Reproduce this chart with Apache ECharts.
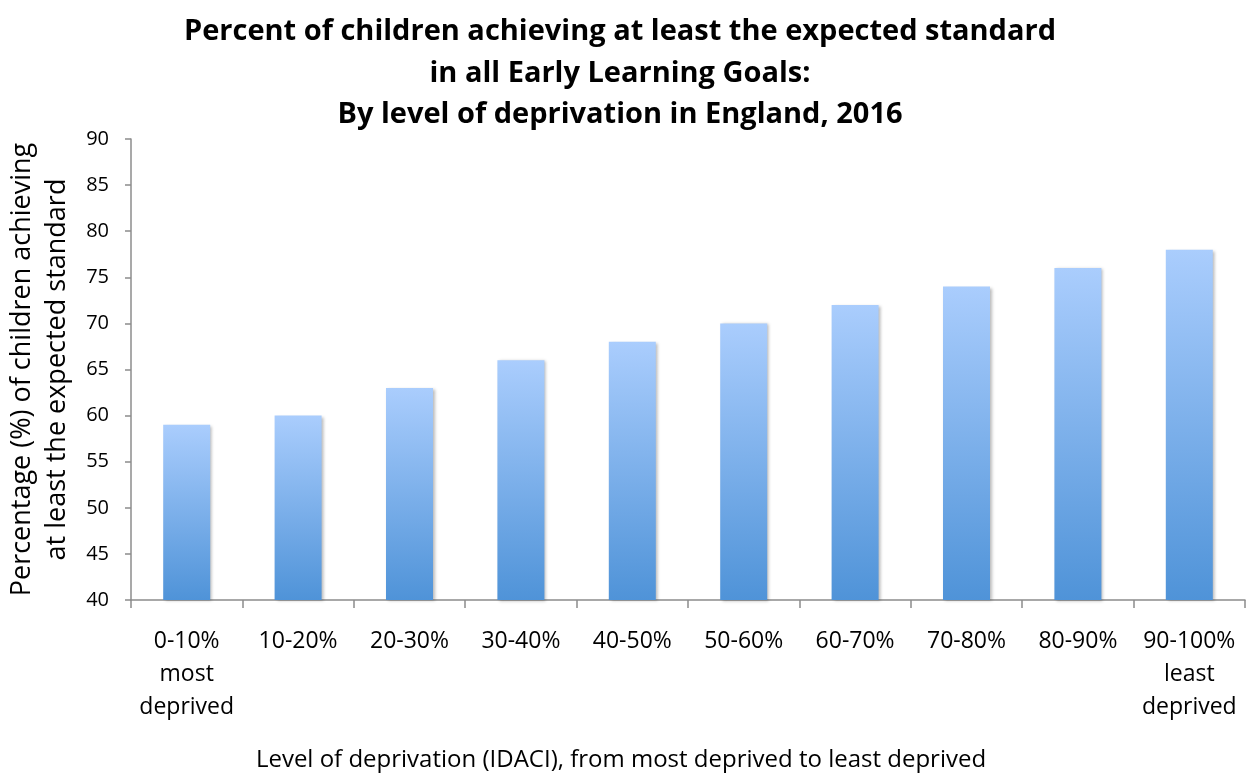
<!DOCTYPE html>
<html>
<head>
<meta charset="utf-8">
<script src="https://cdn.jsdelivr.net/npm/echarts@6/dist/echarts.min.js"></script>
<style>
  html, body { margin: 0; padding: 0; background: #fff; }
  #chart { width: 1247px; height: 774px; }
</style>
</head>
<body>
<div id="chart"></div>
<script>
// Deprivation deciles (IDACI) and share of children reaching the expected standard
const categories = [
  '0-10%\nmost\ndeprived', '10-20%', '20-30%', '30-40%', '40-50%',
  '50-60%', '60-70%', '70-80%', '80-90%', '90-100%\nleast\ndeprived'
];
const percentAchieving = [59, 60, 63, 66, 68, 70, 72, 74, 76, 78];
const yTicks = { min: 40, max: 90, step: 5 };

const FONT = '"Open Sans", "Noto Sans", sans-serif';
const AXIS_GREY = '#8c8c8c';
const chart = echarts.init(document.getElementById('chart'), null, { renderer: 'canvas' });

chart.setOption({
  animation: false,
  backgroundColor: '#ffffff',
  title: [
    {
      text: 'Percent of children achieving at least the expected standard\nin all Early Learning Goals:\nBy level of deprivation in England, 2016',
      left: 620, top: 11, textAlign: 'center', padding: 0,
      textStyle: { fontFamily: FONT, fontSize: 29, fontWeight: 'bold', color: '#000', lineHeight: 41.5 }
    },
    {
      text: 'Level of deprivation (IDACI), from most deprived to least deprived',
      left: 621, top: 745, textAlign: 'center', padding: 0,
      textStyle: { fontFamily: FONT, fontSize: 24, fontWeight: 'normal', color: '#000', lineHeight: 30 }
    }
  ],
  grid: { left: 131, right: 2, top: 139, bottom: 174, containLabel: false, outerBoundsMode: 'none' },
  xAxis: {
    type: 'category',
    data: categories,
    axisLine: { lineStyle: { color: AXIS_GREY, width: 1.5 } },
    axisTick: { show: true, length: 8, alignWithLabel: false, lineStyle: { color: AXIS_GREY, width: 1.5 } },
    axisLabel: {
      interval: 0, margin: 25, color: '#000',
      fontFamily: FONT, fontSize: 23, lineHeight: 33
    }
  },
  yAxis: {
    type: 'value',
    min: yTicks.min, max: yTicks.max, interval: yTicks.step,
    name: 'Percentage (%) of children achieving\nat least the expected standard',
    nameLocation: 'middle', nameGap: 51,
    nameTextStyle: { fontFamily: FONT, fontSize: 27, color: '#000', lineHeight: 35 },
    axisLine: { show: true, lineStyle: { color: AXIS_GREY, width: 1.5 } },
    axisTick: { show: true, length: 6, lineStyle: { color: AXIS_GREY, width: 1.5 } },
    splitLine: { show: false },
    axisLabel: { margin: 22, color: '#000', fontFamily: FONT, fontSize: 20 }
  },
  series: [{
    type: 'bar',
    data: percentAchieving,
    barWidth: 47,
    itemStyle: {
      color: new echarts.graphic.LinearGradient(0, 0, 0, 1, [
        { offset: 0, color: '#aacdfd' },
        { offset: 1, color: '#4f93d8' }
      ]),
      shadowColor: 'rgba(0,0,0,0.28)',
      shadowBlur: 3,
      shadowOffsetX: 2,
      shadowOffsetY: 1
    }
  }]
});
</script>
</body>
</html>
